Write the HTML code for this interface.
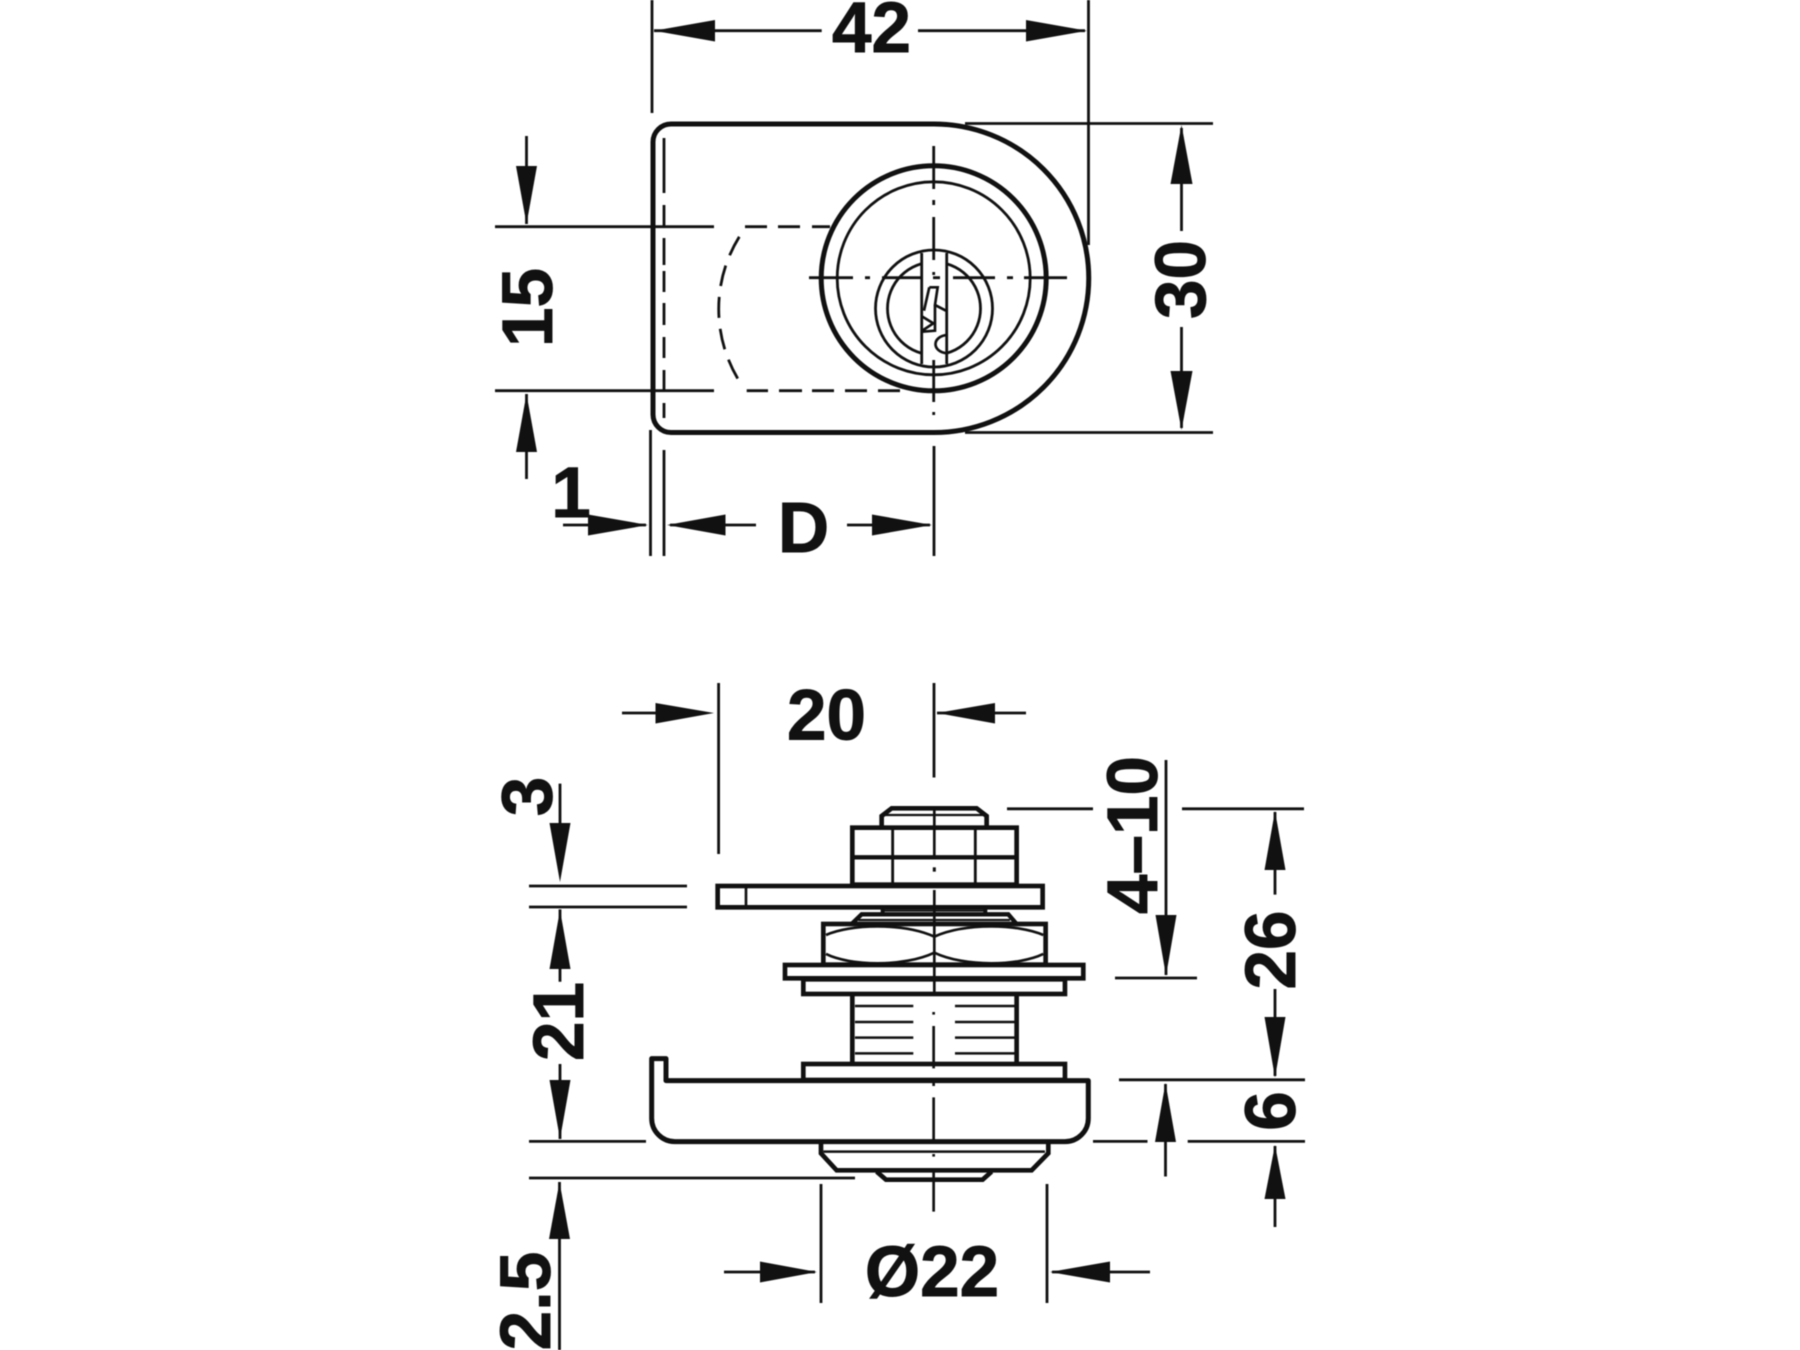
<!DOCTYPE html>
<html><head><meta charset="utf-8"><title>Lock dimensions</title>
<style>html,body{margin:0;padding:0;background:#fff}svg{display:block;filter:blur(.45px)}
text{font-family:"Liberation Sans",sans-serif;font-weight:700;font-size:71px;fill:#111;stroke:#111;stroke-width:.9px;text-anchor:middle}
</style></head><body>
<svg width="1800" height="1350" viewBox="0 0 1800 1350" xmlns="http://www.w3.org/2000/svg">
<rect width="1800" height="1350" fill="#fff"/>
<!-- TOP VIEW -->
<g fill="none" stroke="#111" stroke-width="2.8">
<path d="M652 0V113M1088.5 0V245M654 30.7H821.7M918 30.7H1085"/>
<path d="M965 123.5H1213M965 432.5H1213M1181.5 128V231M1181.5 327V428"/>
<path d="M495 226.700H714M495 390.700H714M526.500 136V224M526.500 394V479"/>
<path d="M650.500 430V556M664 450V556M934 446V556M563 525H646M670 525H756M847 525H930"/>
<path d="M664 138V193M664 205V226M664 238V265M664 271V292M664 303V325M664 337V358M664 370V392M664 403V418"/>
<path d="M745 226.700H767M778 226.700H800M812 226.700H830M746.700 390.700H768M779 390.700H802M812 390.700H834M845 390.700H867M878 390.700H900"/>
<path d="M739.300 236.700A137 137 0 0 0 740 382.300" stroke-dasharray="21 11"/>
</g>
<path d="M671 124H934A154.500 154 0 0 1 934 432.500H671A18 18 0 0 1 653 414.500V142A18 18 0 0 1 671 124Z" fill="none" stroke="#111" stroke-width="5"/>
<circle cx="933.7" cy="278.3" r="112.500" fill="none" stroke="#111" stroke-width="5"/>
<circle cx="933.7" cy="278.3" r="96.500" fill="none" stroke="#111" stroke-width="2.800"/>
<circle cx="934" cy="308.500" r="58.500" fill="none" stroke="#111" stroke-width="2.800"/>
<circle cx="934" cy="308.500" r="46.500" fill="none" stroke="#111" stroke-width="2.800"/>
<rect x="922" y="254" width="24.500" height="108" fill="#fff"/>
<g fill="none" stroke="#111" stroke-width="2.800">
<path d="M921.700 253V364M946.700 253V364"/>
<path d="M809 277.700H853M865 277.700H870M882 277.700H923M933 277.700H940M953 277.700H995M1007 277.700H1013M1024 277.700H1067"/>
<path d="M933.700 146V189M933.700 200V205M933.700 217V260M933.700 272V275M933.700 360V402M933.700 412V415"/>
<g transform="translate(800 140) scale(.3333)" stroke-width="8">
<path d="M388 442H413L405 495L438 512M388 442L372 512M405 495V572L367 575M367 530L400 550L367 572M441 585C395 590 395 635 441 640"/>
</g>
</g>
<g fill="#111">
<polygon points="654,30.7 715,20 715,41.500"/><polygon points="1087,30.7 1026,20 1026,41.500"/>
<polygon points="1181.5,125 1170.5,184 1192.500,184"/><polygon points="1181.500,430 1170.500,371 1192.500,371"/>
<polygon points="526.500,224 516,166 537,166"/><polygon points="526.500,394 516,452 537,452"/>
<polygon points="648,525 588,514.500 588,535.500"/><polygon points="667,525 725.500,514.500 725.500,535.500"/><polygon points="932,525 872,514.500 872,535.500"/>
</g>
<text x="871.500" y="52">42</text>
<text x="803.500" y="552">D</text>
<text x="571" y="517">1</text>
<text transform="translate(1205 279.500) rotate(-90)">30</text>
<text transform="translate(552 307.500) rotate(-90)">15</text>

<!-- SIDE VIEW -->
<g fill="none" stroke="#111" stroke-width="2.800">
<path d="M718.600 683V854M934 683V777.500M622 713H660M937 713H1026"/>
<path d="M529 886H687M529 907H687M560 783.600V826M560 909.400V981.700M560 1064V1139M529 1141.400H646"/>
<path d="M529 1178H855M559.500 1182V1350"/>
<path d="M1166 760V975M1115 978H1197M1007 808.800H1093M1182 808.800H1304M1275 812V894.600M1275 989V1076"/>
<path d="M1119 1079.800H1305M1093 1141.400H1147.500M1187.700 1141.400H1305M1165.500 1084V1176.500M1275 1146V1227"/>
<path d="M821 1184V1303M1047 1184V1303M724 1272H815M1052 1272H1150"/>
</g>
<g fill="none" stroke="#111" stroke-width="4" transform="translate(700 780) scale(.3333)">
<path d="M545 140V108L575 85H830L860 108V140" stroke-width="14"/>
<path d="M555 105H850" stroke-width="7"/>
<rect x="457" y="143" width="493" height="171" stroke-width="14"/>
<path d="M457 232H950" stroke-width="13"/>
<path d="M578 143V314M826 143V314" stroke-width="8.500"/>
<rect x="53" y="318" width="975" height="64" stroke-width="14" fill="#fff"/>
<path d="M138 318V382" stroke-width="8"/>
<path d="M548 382V402M856 382V402" stroke-width="12"/>
<path d="M548 392H856" stroke-width="6"/>
<path d="M455 432L485 403H925L950 432" stroke-width="13"/>
<path d="M475 420H930" stroke-width="7"/>
<rect x="370" y="432" width="667" height="122" stroke-width="14" fill="#fff"/>
<path d="M378 465C450 432 610 428 703 470C796 428 956 432 1030 465M378 522C450 558 610 562 703 518C796 562 956 558 1030 522" stroke-width="8"/>
<rect x="255" y="555" width="895" height="40" stroke-width="14" fill="#fff"/>
<rect x="310" y="598" width="785" height="44" stroke-width="14" fill="#fff"/>
<path d="M703 85V236M703 330V640" stroke-width="8"/>
<path d="M703 262V275" stroke-width="9"/>
</g>
<g fill="none" stroke="#111" stroke-width="4" transform="translate(640 1000) scale(.3333)">
<path d="M637 -20V190M1130 -20V190" stroke-width="14"/>
<path d="M645 18H820M645 66H820M645 113H820M645 160H820M945 18H1125M945 66H1125M945 113H1125M945 160H1125" stroke-width="7.500"/>
<rect x="490" y="192" width="785" height="48" stroke-width="14" fill="#fff"/>
<path d="M35 176H78V242H1345V355A70 70 0 0 1 1275 425H105A70 70 0 0 1 35 355Z" stroke-width="15" fill="#fff" stroke-linejoin="round"/>
<path d="M543 430V460L590 511H1175L1225 460V430" stroke-width="14"/>
<path d="M550 455H1215" stroke-width="7.500"/>
<path d="M710 515L738 539H1028L1055 515" stroke-width="14"/>
<path d="M881 36V44M881 78V205M881 245V258M881 292V425M881 462V470M881 515V635" stroke-width="8"/>
</g>
<g fill="#111">
<polygon points="714,713 655.500,703 655.500,723.500"/><polygon points="937,713 995,703 995,723.500"/>
<polygon points="560,882 549.500,823 570.500,823"/><polygon points="560,910 549.500,969 570.500,969"/>
<polygon points="560,1139 549.500,1080 570.500,1080"/><polygon points="559.500,1182 549,1239 570,1239"/>
<polygon points="1166,975.700 1155.500,915 1176.500,915"/>
<polygon points="1275,811 1264.500,870 1285.500,870"/><polygon points="1275,1077.600 1264.500,1017 1285.500,1017"/>
<polygon points="1165.500,1083 1155,1142 1176,1142"/><polygon points="1275,1145 1264.500,1199 1285.500,1199"/>
<polygon points="817,1272 760,1261.500 760,1282.500"/><polygon points="1050,1272 1110,1261.500 1110,1282.500"/>
</g>
<text x="826.500" y="739.500">20</text>
<text x="932" y="1296">Ø22</text>
<text transform="translate(551.500 796.500) rotate(-90)">3</text>
<text transform="translate(583 1021.500) rotate(-90)">21</text>
<text transform="translate(550 1301) rotate(-90)">2.5</text>
<text transform="translate(1157 835) rotate(-90)">4–10</text>
<text transform="translate(1295 950) rotate(-90)">26</text>
<text transform="translate(1295 1111) rotate(-90)">6</text>
</svg>
</body></html>
